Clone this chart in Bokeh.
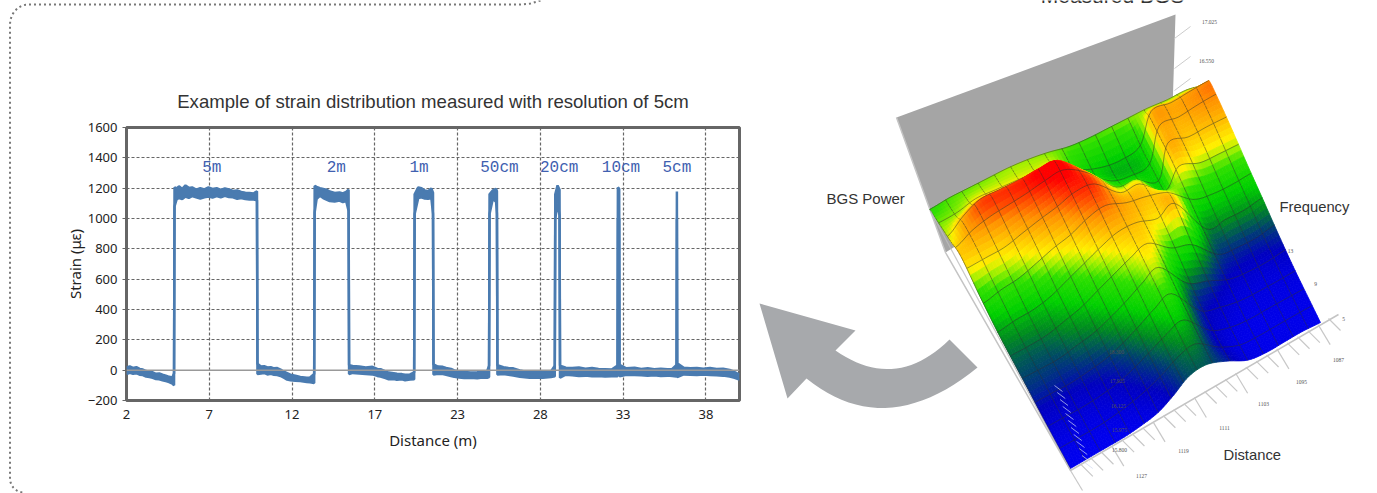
import numpy as np
from bokeh.plotting import figure
from bokeh.embed import file_html
from bokeh.resources import INLINE
from bokeh.models import FixedTicker, Range1d, Span, Title
from bokeh.core.properties import value

# ---------- strain chart data ----------
distance = [2,2.2,2.4,2.6,2.8,3,3.2,3.4,3.6,3.8,4,4.2,4.4,4.6,4.8,4.9,
 4.93,5.05,5.2,5.4,5.6,5.8,6,6.25,6.5,6.75,7,7.25,7.5,7.75,8,8.25,8.5,8.75,9,9.25,9.5,9.75,9.96,
 9.99,10.2,10.4,10.6,10.8,11,11.2,11.4,11.6,11.8,12,12.3,12.6,13,13.2,13.45,
 13.48,13.6,13.8,14,14.2,14.4,14.7,15,15.2,15.4,15.55,
 15.58,15.8,16.2,16.6,17,17.3,17.5,17.8,18,18.3,18.5,18.8,19,19.3,19.55,
 19.58,19.8,20,20.2,20.4,20.6,20.7,
 20.73,21,21.3,21.5,21.8,22,22.3,22.6,23,23.4,23.7,24,24.12,
 24.15,24.35,24.55,24.6,
 24.63,25,25.3,25.6,26,26.3,26.6,27,27.4,27.9,28.13,
 28.16,28.3,28.42,
 28.45,28.8,29.2,29.6,30,30.4,30.8,31.2,31.6,31.96,
 31.98,32.06,
 32.08,32.5,33,33.4,33.8,34.2,34.6,35,35.3,35.56,
 35.58,
 35.6,36,36.4,36.8,37.2,37.6,38,38.4,38.8,39.1,39.4]
strain_lo = [-25,-18,-24,-20,-30,-32,-42,-46,-50,-58,-60,-66,-72,-78,-88,-100,
 1080,1125,1135,1128,1145,1136,1148,1140,1132,1140,1145,1138,1148,1140,1150,1142,1140,1130,1135,1128,1125,1125,1120,
 -25,-22,-18,-28,-24,-30,-32,-38,-50,-62,-66,-70,-72,-78,-80,-85,
 1040,1130,1150,1135,1125,1115,1112,1118,1108,1115,1050,
 -25,-18,-22,-26,-28,-38,-42,-52,-60,-58,-64,-60,-66,-62,-60,
 1030,1135,1140,1132,1130,1135,1030,
 -28,-24,-26,-30,-38,-44,-48,-52,-50,-54,-48,-50,-45,
 1030,1130,1110,1030,
 -28,-26,-30,-36,-44,-46,-50,-48,-50,-45,-40,
 1000,1100,1020,
 -50,-30,-34,-38,-36,-40,-38,-42,-40,-40,
 1000,1000,
 -40,-30,-32,-34,-36,-34,-38,-36,-38,-42,
 1000,
 -45,-28,-30,-32,-28,-32,-34,-36,-42,-50,-62]
strain_hi = [18,24,15,20,8,4,-6,-10,-14,-24,-22,-30,-36,-44,-48,-20,
 1205,1198,1212,1195,1218,1202,1205,1190,1200,1192,1205,1195,1200,1188,1198,1192,1182,1185,1175,1170,1168,1165,1180,
 42,24,26,18,20,12,14,4,-10,-20,-30,-36,-45,-50,-48,-25,
 1215,1208,1200,1195,1190,1178,1168,1172,1165,1175,1190,
 32,28,24,18,22,8,6,-8,-16,-20,-24,-26,-30,-28,-15,
 1160,1205,1200,1185,1180,1198,1170,
 38,24,22,15,8,-2,-8,-12,-16,-14,-10,-8,30,
 1160,1185,1195,1180,
 32,20,14,12,-2,-8,-12,-14,-10,-8,30,
 1160,1218,1190,
 30,16,14,18,10,14,8,6,4,30,
 1205,1195,
 35,12,16,8,12,6,10,6,8,35,
 1178,
 45,16,12,14,10,14,8,10,2,-12,-30]
label_text = ["5m","2m","1m","50cm","20cm","10cm","5cm"]
label_x = [7.2,14.8,19.85,24.75,28.4,32.17,35.58]
label_y = [1330]*7
x_ticks = [2,7.05,12.1,17.15,22.2,27.25,32.3,37.35]
x_tick_labels = ["2","7","12","17","23","28","33","38"]
y_ticks = list(range(-200,1601,200))

# ---------- surface data: rows = frequency (front to back), columns = distance ----------
power = [
 [.00,.00,.00,.00,.01,.03,.08,.14,.15,.10,.03,.01,.01,.01,.00],
 [.02,.02,.02,.03,.05,.08,.12,.17,.19,.08,.02,.01,.01,.01,.01],
 [.06,.06,.06,.07,.09,.13,.18,.23,.26,.09,.04,.02,.02,.02,.02],
 [.12,.12,.12,.14,.16,.20,.25,.31,.35,.14,.09,.05,.04,.04,.05],
 [.16,.16,.17,.20,.23,.28,.33,.38,.42,.30,.24,.12,.10,.10,.12],
 [.21,.23,.24,.27,.32,.37,.42,.46,.46,.42,.46,.20,.20,.20,.22],
 [.31,.34,.36,.40,.44,.47,.52,.54,.48,.46,.40,.32,.29,.29,.30],
 [.45,.46,.47,.50,.53,.56,.59,.56,.40,.40,.27,.46,.42,.42,.42],
 [.40,.50,.56,.57,.58,.60,.60,.46,.30,.27,.27,.47,.47,.49,.50],
 [.36,.38,.42,.42,.42,.42,.42,.30,.24,.23,.27,.48,.48,.50,.52],
 [.32,.34,.35,.36,.37,.37,.36,.34,.34,.35,.36,.37,.37,.38,.36],
]
color_stops = [0,.12,.22,.32,.42,.55,.62,.68,.85,1]
color_vals = ["#0000f0","#0000c0","#003f70","#008a20","#00d000","#30e000","#a0f000","#fff000","#ff9000","#ff0000"]

W, H = 1377, 493
bg = figure(width=W, height=H, x_range=Range1d(0,W), y_range=Range1d(H,0), output_backend="svg",
            toolbar_location=None, min_border=0, outline_line_color=None,
            styles={"position":"absolute","left":"0px","top":"0px"})
bg.axis.visible = False
bg.grid.visible = False

# dotted frame
t = np.linspace(0, np.pi/2, 12)
bg.line([540,530,520,28]+list(28-18.5*np.sin(t))+[9.5,9.5]+list(9.5+14*(1-np.cos(t))),
        [0,3,4,4]+list(24-20*np.cos(t))+[24,478]+list(478+14*np.sin(t)),
        line_color="#777777", line_width=2, line_dash="2 3")

# grey wall
bg.patch([896,1175,1172,945],[117,14,110,252], color="#a5a5a5", line_width=0)
# floor edges
bg.line([896,945,1070,1338],[117,252,470,314], color="#c4c4c4", line_width=1.5)
for k in np.linspace(0,1,26):
    xx = 1070+k*258; yy = 470-k*152
    bg.line([xx,xx+12],[yy,yy+20 if int(round(k*25))%4==0 else yy+12], color="#c8c8c8", line_width=1.2)
for yy in [30,60,82]:
    bg.line([1174,1190],[yy+8,yy-4], color="#cccccc", line_width=1)

# surface
Z = np.array(power)
def cr(a, n, axis):
    a = np.moveaxis(a, axis, 0)
    m = a.shape[0]
    out = []
    for i in range(m-1):
        p0,p1,p2,p3 = a[max(i-1,0)],a[i],a[i+1],a[min(i+2,m-1)]
        for k in range(n):
            s = k/n
            out.append(.5*(2*p1+(p2-p0)*s+(2*p0-5*p1+4*p2-p3)*s*s+(3*p1-p0-3*p2+p3)*s**3))
    out.append(a[-1])
    return np.moveaxis(np.array(out),0,axis)
SUB = 6
Zf = cr(cr(Z,SUB,0),SUB,1)
nf, nd = Zf.shape
d = np.linspace(0,1,nd)[None,:]
f = np.linspace(0,1,nf)[:,None]
P00,P10,P01,P11 = [np.array(v,float) for v in [(1070,468),(1320,322),(945,252),(1225,132)]]
WV = np.array([-49.,-135.])
SX = (1-d)*(1-f)*P00[0]+d*(1-f)*P10[0]+(1-d)*f*P01[0]+d*f*P11[0]+Zf*WV[0]
SY = (1-d)*(1-f)*P00[1]+d*(1-f)*P10[1]+(1-d)*f*P01[1]+d*f*P11[1]+Zf*WV[1]
rgb = np.array([[int(c[i:i+2],16) for i in (1,3,5)] for c in color_vals],float)
def col(z):
    v = np.clip(z/.6,0,1)
    return "#%02x%02x%02x"%tuple(int(round(np.interp(v,color_stops,rgb[:,i]))) for i in range(3))
LINE = "#2c2c2c"
for j in range(nf-2,-1,-1):
    xs,ys,cs = [],[],[]
    for i in range(nd-1):
        xs.append([SX[j,i],SX[j,i+1],SX[j+1,i+1],SX[j+1,i]])
        ys.append([SY[j,i],SY[j,i+1],SY[j+1,i+1],SY[j+1,i]])
        cs.append(col(Zf[j:j+2,i:i+2].mean()))
    bg.patches(xs,ys,fill_color=cs,line_color=cs,line_width=.8)
    lx,ly = [],[]
    for i in range(0,nd,5):
        lx.append([SX[j,i],SX[j+1,i]]); ly.append([SY[j,i],SY[j+1,i]])
    bg.multi_line(lx,ly,line_color=LINE,line_alpha=.6,line_width=.8)
    if (j+1)%5==0:
        bg.line(SX[j+1],SY[j+1],line_color=LINE,line_alpha=.6,line_width=.8)

# grey line through surface and small white hatching
bg.line([945-49*.31,1070],[252-135*.31,470],color="#bbbbbb",line_alpha=.8,line_width=1.2)
for k in range(12):
    yy = 385+k*7
    xx = 1054+k*1.25*2.2
    bg.line([xx,xx+8],[yy,yy+6],color="#d0d8f0",line_width=.7)

# arrow
a = np.linspace(0,1,24)
def qb(p0,p1,p2):
    return [(1-s)**2*p0[0]+2*s*(1-s)*p1[0]+s*s*p2[0] for s in a],[(1-s)**2*p0[1]+2*s*(1-s)*p1[1]+s*s*p2[1] for s in a]
ix,iy = qb((835,350),(895,392),(949,339))
ox,oy = qb((977,367),(885,442),(806,378))
bg.patch([759,855]+ix+ox+[787],[303,330]+iy+oy+[398],color="#a7a9ac",line_width=0)

# page texts
def txt(x,y,s,size,font="Liberation Sans",color="#333333",align="left"):
    bg.text([x],[y],text=[s],text_font=value(font),text_font_size=size,text_color=color,
            text_align=align,text_baseline="middle")
txt(1112,-5,"Measured BGS","21px",align="center")
txt(826,198,"BGS Power","15px")
txt(1279,206,"Frequency","14.8px")
txt(1223,454,"Distance","14.8px")
for x_,y_,s in [(1209,21,"17.025"),(1206,60,"16.550"),(1290,250,"13"),(1315,283,"9"),(1343,318,"5"),
                (1338,359,"1087"),(1301,381,"1095"),(1263,403,"1103"),(1224,427,"1111"),(1183,450,"1119"),(1141,475,"1127"),
                (1116,351,"18.300"),(1117,380,"17.925"),(1118,405,"16.125"),(1119,429,"15.975"),(1119,449,"15.800")]:
    txt(x_,y_,s,"5.5px","Liberation Serif","#555555","center")

# strain chart
p = figure(width=689, height=390, x_range=Range1d(2,39.4), y_range=Range1d(-200,1600), output_backend="svg",
           toolbar_location=None, min_border_left=66, min_border_right=10, min_border_top=57, min_border_bottom=60,
           background_fill_color=None, border_fill_color=None, outline_line_color="#666666", outline_line_width=3,
           styles={"position":"absolute","left":"60px","top":"70px"})
p.add_layout(Title(text="Example of strain distribution measured with resolution of 5cm",
                   text_font="Liberation Sans", text_font_size="18.6px", text_font_style="normal",
                   text_color="#333333", align="center", standoff=31), "above")
p.xaxis.ticker = FixedTicker(ticks=x_ticks)
p.xaxis.major_label_overrides = dict(zip(x_ticks,x_tick_labels))
p.yaxis.ticker = FixedTicker(ticks=y_ticks)
p.xaxis.axis_label = "Distance (m)"
p.yaxis.axis_label = "Strain (με)"
for ax in (p.xaxis[0],p.yaxis[0]):
    ax.axis_line_color = None
    ax.major_tick_in = 0
    ax.minor_tick_line_color = None
    ax.major_label_text_font = "Noto Sans"
    ax.major_label_text_font_size = "13px"
    ax.major_label_text_color = "#222222"
    ax.axis_label_text_font = "Noto Sans"
    ax.axis_label_text_font_size = "15px"
    ax.axis_label_text_font_style = "normal"
    ax.axis_label_text_color = "#222222"
p.xaxis.major_tick_out = 0
p.yaxis.major_tick_out = 4
p.yaxis.major_tick_line_color = "#666666"
p.xaxis.major_label_standoff = 9
p.xaxis.axis_label_standoff = 8
p.yaxis.axis_label_standoff = 0
p.grid.grid_line_color = "#666666"
p.grid.grid_line_dash = "3 2"
p.grid.grid_line_width = 1.2
p.add_layout(Span(location=0, dimension="width", line_color="#999999", line_width=1.5))
BLUE = "#4a7bb0"
p.varea(distance, strain_lo, strain_hi, fill_color=BLUE)
p.line(distance, strain_lo, line_color=BLUE, line_width=2.5)
p.line(distance, strain_hi, line_color=BLUE, line_width=2.5)
p.text(label_x, label_y, text=label_text, text_font=value("Liberation Mono"), text_font_size="16px",
       text_color="#4060b0", text_align="center", text_baseline="middle")

open("out.html", "w").write(file_html([bg, p], INLINE))
